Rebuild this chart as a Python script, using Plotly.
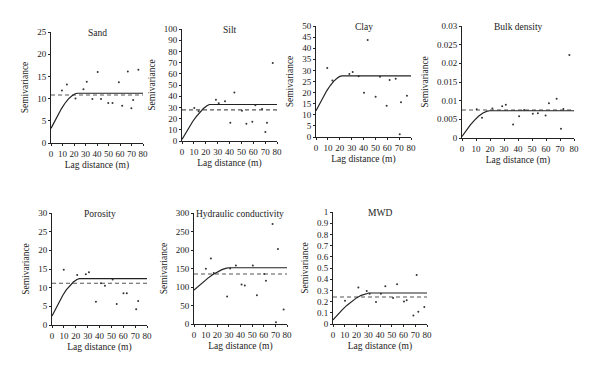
import plotly.graph_objects as go

# ---------------- data ----------------
titles = ["Sand", "Silt", "Clay", "Bulk density", "Porosity", "Hydraulic conductivity", "MWD"]

sand_lag = [9.5, 13.8, 21.3, 28.2, 31.1, 36.0, 40.6, 43.5, 49.8, 53.5, 59.0, 61.9, 66.8, 69.9, 71.4, 76.0]
sand_gamma = [11.8, 13.2, 10.0, 12.1, 13.8, 9.9, 16.0, 9.9, 9.0, 9.0, 13.7, 8.4, 16.1, 7.8, 9.7, 16.5]

silt_lag = [10.3, 14.0, 28.6, 30.9, 36.2, 40.7, 44.1, 50.5, 54.2, 59.2, 61.8, 67.4, 70.2, 71.6, 76.4]
silt_gamma = [29.5, 26.5, 36.8, 33.8, 35.6, 16.3, 43.3, 27.0, 15.4, 17.2, 32.0, 28.5, 8.0, 16.3, 69.7]

clay_lag = [9.5, 13.8, 28.1, 30.9, 35.9, 40.4, 43.5, 50.2, 53.9, 59.5, 62.0, 67.1, 70.5, 71.6, 76.6]
clay_gamma = [31.1, 25.4, 28.4, 29.3, 27.4, 19.9, 43.7, 18.1, 27.1, 14.1, 25.7, 26.2, 1.2, 15.6, 18.6]

bulk_lag = [10.5, 14.3, 21.7, 28.7, 31.3, 36.5, 40.8, 44.4, 50.6, 54.2, 59.7, 62.1, 67.6, 70.7, 72.4, 76.7]
bulk_gamma = [0.0077, 0.0054, 0.0079, 0.0085, 0.0089, 0.0036, 0.0058, 0.0075, 0.0065, 0.0066, 0.0060,
              0.0093, 0.0105, 0.0025, 0.0078, 0.0222]

poro_lag = [9.9, 21.2, 28.5, 31.1, 37.0, 41.2, 44.6, 51.1, 54.5, 60.2, 63.0, 70.9, 72.6]
poro_gamma = [14.8, 13.4, 13.6, 14.1, 6.2, 11.2, 10.5, 12.2, 5.6, 8.5, 8.5, 4.2, 6.4]

hyd_lag = [10.2, 14.5, 17.0, 28.5, 31.1, 36.0, 40.9, 43.7, 50.6, 54.1, 60.4, 61.9, 67.6, 70.5, 72.2, 77.1]
hyd_gamma = [149, 177, 138, 74, 150, 158, 107, 104, 158, 78, 135, 117, 270, 5, 203, 39]

mwd_lag = [10.2, 21.6, 28.7, 31.2, 36.6, 40.8, 44.5, 51.1, 54.5, 60.4, 62.7, 68.4, 71.2, 72.6, 77.7]
mwd_gamma = [0.208, 0.327, 0.295, 0.271, 0.196, 0.271, 0.336, 0.232, 0.354, 0.202, 0.211, 0.077, 0.437,
             0.110, 0.152]

# fitted model curves
sand_model_lag = [0, 3, 6, 9, 12, 15, 18, 21, 23, 80]
sand_model_gamma = [3.3, 4.8, 6.3, 7.7, 8.9, 9.9, 10.6, 11.1, 11.2, 11.2]
silt_model_lag = [0, 3, 6, 9, 12, 15, 18, 21, 23, 80]
silt_model_gamma = [1.5, 7.0, 12.3, 17.4, 21.8, 25.8, 29.0, 31.5, 32.6, 32.6]
clay_model_lag = [0, 3, 6, 9, 12, 15, 18, 20, 22, 80]
clay_model_gamma = [11.8, 15.0, 18.0, 20.8, 23.2, 25.2, 26.6, 27.3, 27.5, 27.5]
bulk_model_lag = [0, 3, 6, 9, 12, 15, 18, 20, 80]
bulk_model_gamma = [0.0004, 0.0020, 0.0035, 0.0048, 0.0059, 0.0067, 0.0072, 0.0073, 0.0073]
poro_model_lag = [0, 3, 6, 9, 12, 15, 18, 21, 23, 80]
poro_model_gamma = [2.4, 4.3, 6.2, 7.9, 9.4, 10.6, 11.5, 12.2, 12.4, 12.4]
hyd_model_lag = [0, 4, 8, 12, 16, 20, 24, 28, 30.5, 80]
hyd_model_gamma = [91.5, 103, 114, 124, 133, 141, 147, 151, 152, 152]
mwd_model_lag = [0, 4, 8, 12, 16, 20, 24, 28, 30.5, 80]
mwd_model_gamma = [0.036, 0.084, 0.128, 0.168, 0.203, 0.233, 0.256, 0.272, 0.277, 0.277]

# mean (sample variance) dashed lines; None = no line drawn
mean_lines = [10.8, 27.8, None, 0.0075, 11.2, 135, 0.241]

y_max = [25, 100, 50, 0.03, 30, 300, 1]
y_dtick = [5, 10, 5, 0.005, 5, 50, 0.1]
x_ticks = [0, 10, 20, 30, 40, 50, 60, 70, 80]

# ---------------- layout geometry ----------------
W, H = 600, 373
boxes = [  # left, right, top, bottom in pixels
    (51, 143, 32, 143),
    (182, 277, 29, 141),
    (316, 411, 26, 137),
    (462, 574, 26, 138),
    (52, 147, 213, 325),
    (194, 287, 213, 324),
    (333, 427, 212, 324),
]

lags = [sand_lag, silt_lag, clay_lag, bulk_lag, poro_lag, hyd_lag, mwd_lag]
gammas = [sand_gamma, silt_gamma, clay_gamma, bulk_gamma, poro_gamma, hyd_gamma, mwd_gamma]
m_lags = [sand_model_lag, silt_model_lag, clay_model_lag, bulk_model_lag, poro_model_lag, hyd_model_lag,
          mwd_model_lag]
m_gammas = [sand_model_gamma, silt_model_gamma, clay_model_gamma, bulk_model_gamma, poro_model_gamma,
            hyd_model_gamma, mwd_model_gamma]

FONT = "Liberation Serif"
fig = go.Figure()
layout = dict(
    width=W, height=H, margin=dict(l=0, r=0, t=0, b=0, pad=0, autoexpand=False),
    paper_bgcolor="white", plot_bgcolor="white", showlegend=False,
    font=dict(family=FONT, size=9, color="#222"),
)
annotations = []

for i in range(7):
    k = "" if i == 0 else str(i + 1)
    xa, ya = "x" + k, "y" + k
    l, r, t, b = boxes[i]
    if mean_lines[i] is not None:
        fig.add_trace(go.Scatter(x=[0, 80], y=[mean_lines[i]] * 2, mode="lines", xaxis=xa, yaxis=ya,
                                 line=dict(color="#555", width=1.1, dash="4px,3px"), hoverinfo="skip"))
    fig.add_trace(go.Scatter(x=m_lags[i], y=m_gammas[i], mode="lines", xaxis=xa, yaxis=ya,
                             line=dict(color="#222", width=1.2)))
    fig.add_trace(go.Scatter(x=lags[i], y=gammas[i], mode="markers", xaxis=xa, yaxis=ya,
                             marker=dict(color="#333", size=2)))

    common = dict(showgrid=False, zeroline=False, showline=True, linecolor="#222", linewidth=1,
                  ticks="outside", ticklen=2, tickcolor="#222", tickwidth=1, automargin=False,
                  tickfont=dict(family=FONT, size=9, color="#222"))
    layout["xaxis" + k] = dict(
        common, domain=[l / W, r / W], anchor=ya, range=[0, 80], tickvals=x_ticks, tickangle=0,
        title=dict(text="Lag distance (m)", font=dict(family=FONT, size=9.5, color="#222"), standoff=3),
    )
    layout["yaxis" + k] = dict(
        common, domain=[1 - b / H, 1 - t / H], anchor=xa, range=[0, y_max[i]], dtick=y_dtick[i], tick0=0,
        title=dict(text="Semivariance", font=dict(family=FONT, size=9.5, color="#222"), standoff=6),
    )
    annotations.append(dict(
        text=titles[i], xref=xa + " domain", yref=ya + " domain", x=0.5, y=0.99,
        xanchor="center", yanchor="middle", showarrow=False,
        font=dict(family=FONT, size=9.5, color="#222"),
    ))

layout["annotations"] = annotations
fig.update_layout(**layout)
fig.write_html("out.html", config={"displayModeBar": False},
               post_script="document.body.style.margin='0px';")
